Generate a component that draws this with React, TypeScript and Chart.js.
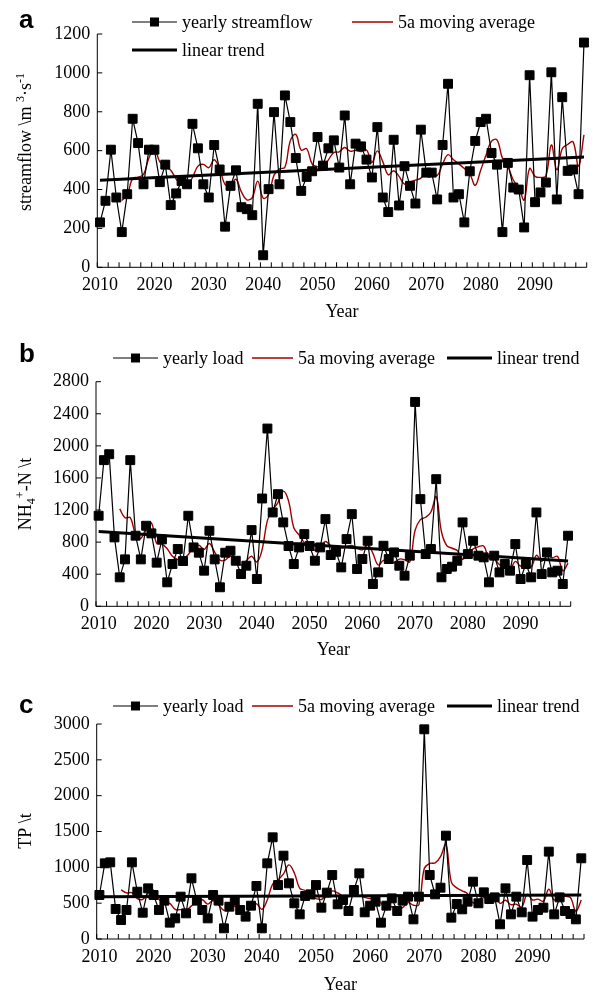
import React, { useEffect, useRef } from "react";
import { Chart, registerables } from "chart.js";

Chart.register(...registerables);

// ---------- data ----------
const START_YEAR = 2010;
const X_LABEL_YEARS = [2010, 2020, 2030, 2040, 2050, 2060, 2070, 2080, 2090];

// yearly streamflow, m3/s, 2010..2099
const streamflow = [
  231, 342, 605, 359, 181, 376, 764, 639, 427, 605,
  605, 438, 528, 320, 380, 444, 427, 738, 612, 427,
  359, 629, 503, 209, 419, 499, 309, 299, 268, 841,
  62, 402, 798, 427, 884, 747, 562, 393, 465, 494,
  670, 523, 612, 653, 513, 781, 427, 636, 622, 554,
  462, 721, 359, 284, 656, 318, 520, 419, 328, 708,
  487, 487, 349, 629, 944, 359, 376, 231, 494, 650,
  747, 764, 588, 528, 181, 537, 410, 400, 205, 988,
  335, 385, 436, 1003, 349, 875, 496, 503, 376, 1156,
];

// yearly NH4+-N load, t, 2010..2099
const nh4Load = [
  1129, 1822, 1896, 859, 361, 585, 1822, 880, 585, 1004,
  909, 544, 834, 299, 527, 714, 564, 1129, 734, 668,
  444, 942, 585, 237, 668, 693, 568, 402, 506, 950,
  340, 1344, 2216, 1170, 1398, 1046, 751, 527, 734, 900,
  751, 568, 734, 1087, 639, 680, 485, 838, 1149, 465,
  589, 817, 278, 423, 755, 589, 672, 506, 382, 631,
  2548, 1336, 651, 714, 1585, 361, 465, 494, 568, 1046,
  651, 817, 631, 610, 299, 631, 423, 527, 444, 776,
  340, 527, 361, 1170, 402, 672, 423, 444, 278, 880,
];

// yearly TP load, t, 2010..2099
const tpLoad = [
  614, 1056, 1070, 419, 265, 405, 1070, 660, 367, 707,
  614, 405, 535, 228, 288, 591, 358, 847, 535, 405,
  288, 614, 535, 149, 451, 535, 405, 312, 465, 740,
  149, 1056, 1419, 753, 1163, 777, 498, 344, 600, 623,
  753, 437, 647, 893, 484, 544, 391, 684, 916, 372,
  465, 521, 228, 465, 567, 391, 535, 591, 274, 591,
  2926, 893, 623, 716, 1442, 298, 488, 414, 521, 800,
  498, 651, 558, 581, 205, 707, 344, 591, 372, 1102,
  312, 405, 437, 1219, 344, 581, 391, 349, 274, 1126,
];

// linear trend end values (2010, 2099)
const streamflowTrend = [448, 567];
const nh4Trend = [934, 564];
const tpTrend = [590, 615];
const TREND_YEARS = [2010, 2099];

// y-axis ticks
const streamflowTicks = [0, 200, 400, 600, 800, 1000, 1200];
const nh4Ticks = [0, 400, 800, 1200, 1600, 2000, 2400, 2800];
const tpTicks = [0, 500, 1000, 1500, 2000, 2500, 3000];

const MA_WINDOW = 5; // "5a moving average" of the yearly values

// ---------- helpers ----------
const SERIF = "'Liberation Serif', 'Times New Roman', serif";
const RED = "#a00000";

function toPoints(values: number[]) {
  return values.map((v, i) => ({ x: START_YEAR + i, y: v }));
}
function movingAverage(values: number[]) {
  const out: { x: number; y: number }[] = [];
  for (let i = MA_WINDOW - 1; i < values.length; i++) {
    let s = 0;
    for (let k = i - MA_WINDOW + 1; k <= i; k++) s += values[k];
    out.push({ x: START_YEAR + i, y: s / MA_WINDOW });
  }
  return out;
}

type Seg = { t: string; sup?: boolean; sub?: boolean };

type Panel = {
  letter: string;
  top: number;
  height: number;
  plotLeft: number;
  plotRight: number;
  plotTop: number;
  plotBottom: number;
  values: number[];
  trend: number[];
  ticks: number[];
  yTitle: Seg[];
  yTitleY: number;
  yearY: number;
  letterY: number;
  legendRows: { kind: string; x1: number; x2: number; y: number; label: string }[];
};

const panels: Panel[] = [
  {
    letter: "a",
    top: 0,
    height: 330,
    plotLeft: 97.3,
    plotRight: 586.7,
    plotTop: 34,
    plotBottom: 267.3,
    values: streamflow,
    trend: streamflowTrend,
    ticks: streamflowTicks,
    yTitle: [{ t: "streamflow \\m " }, { t: "3", sup: true }, { t: "·s" }, { t: "-1", sup: true }],
    yTitleY: 142,
    yearY: 312,
    letterY: 28,
    legendRows: [
      { kind: "marker", x1: 132, x2: 177, y: 22, label: "yearly streamflow" },
      { kind: "ma", x1: 352, x2: 393, y: 22, label: "5a moving average" },
      { kind: "trend", x1: 132, x2: 177, y: 50, label: "linear trend" },
    ],
  },
  {
    letter: "b",
    top: 330,
    height: 335,
    plotLeft: 96,
    plotRight: 570.7,
    plotTop: 51.7,
    plotBottom: 276.3,
    values: nh4Load,
    trend: nh4Trend,
    ticks: nh4Ticks,
    yTitle: [{ t: "NH" }, { t: "4", sub: true }, { t: "+", sup: true }, { t: "-N \\t" }],
    yTitleY: 164,
    yearY: 320,
    letterY: 32,
    legendRows: [
      { kind: "marker", x1: 113, x2: 158, y: 28, label: "yearly load" },
      { kind: "ma", x1: 252, x2: 293, y: 28, label: "5a moving average" },
      { kind: "trend", x1: 447, x2: 492, y: 28, label: "linear trend" },
    ],
  },
  {
    letter: "c",
    top: 665,
    height: 329,
    plotLeft: 96.7,
    plotRight: 584,
    plotTop: 59,
    plotBottom: 274,
    values: tpLoad,
    trend: tpTrend,
    ticks: tpTicks,
    yTitle: [{ t: "TP \\t" }],
    yTitleY: 166,
    yearY: 320,
    letterY: 48,
    legendRows: [
      { kind: "marker", x1: 113, x2: 158, y: 41, label: "yearly load" },
      { kind: "ma", x1: 252, x2: 293, y: 41, label: "5a moving average" },
      { kind: "trend", x1: 447, x2: 492, y: 41, label: "linear trend" },
    ],
  },
];

function drawRich(ctx: CanvasRenderingContext2D, segs: Seg[], cx: number, cy: number) {
  ctx.save();
  ctx.translate(cx, cy);
  ctx.rotate(-Math.PI / 2);
  ctx.fillStyle = "#000";
  ctx.textAlign = "left";
  ctx.textBaseline = "alphabetic";
  const fontFor = (s: Seg) => (s.sup || s.sub ? `12px ${SERIF}` : `18px ${SERIF}`);
  let total = 0;
  const widths = segs.map((s) => {
    ctx.font = fontFor(s);
    const w = ctx.measureText(s.t).width;
    total += w;
    return w;
  });
  let x = -total / 2;
  const base = 6;
  segs.forEach((s, i) => {
    ctx.font = fontFor(s);
    const dy = s.sup ? -7 : s.sub ? 4 : 0;
    ctx.fillText(s.t, x, base + dy);
    x += widths[i];
  });
  ctx.restore();
}

function makePlugin(p: Panel) {
  return {
    id: "decor" + p.letter,
    afterDraw(chart: any) {
      const ctx: CanvasRenderingContext2D = chart.ctx;
      const xs = chart.scales.x;
      const ys = chart.scales.y;
      const area = chart.chartArea;
      ctx.save();
      ctx.strokeStyle = "#000";
      ctx.lineWidth = 1;
      // axis lines
      ctx.beginPath();
      ctx.moveTo(area.left, area.top);
      ctx.lineTo(area.left, area.bottom);
      ctx.lineTo(area.right, area.bottom);
      ctx.stroke();
      // inward x tick marks every 2 categories
      ctx.beginPath();
      for (let k = 0; k <= 45; k++) {
        const px = xs.getPixelForValue(2009.5 + 2 * k);
        ctx.moveTo(px, area.bottom);
        ctx.lineTo(px, area.bottom - 5);
      }
      // inward y tick marks
      p.ticks.forEach((v) => {
        const py = ys.getPixelForValue(v);
        ctx.moveTo(area.left, py);
        ctx.lineTo(area.left + 5, py);
      });
      ctx.stroke();

      // legend
      ctx.textBaseline = "middle";
      ctx.textAlign = "left";
      ctx.font = `18px ${SERIF}`;
      p.legendRows.forEach((r) => {
        ctx.beginPath();
        if (r.kind === "marker") {
          ctx.strokeStyle = "#000";
          ctx.lineWidth = 1.2;
        } else if (r.kind === "ma") {
          ctx.strokeStyle = RED;
          ctx.lineWidth = 1.3;
        } else {
          ctx.strokeStyle = "#000";
          ctx.lineWidth = 3;
        }
        ctx.moveTo(r.x1, r.y);
        ctx.lineTo(r.x2, r.y);
        ctx.stroke();
        if (r.kind === "marker") {
          ctx.fillStyle = "#000";
          const c = (r.x1 + r.x2) / 2;
          ctx.fillRect(c - 4.5, r.y - 4.5, 9, 9);
        }
        ctx.fillStyle = "#000";
        ctx.fillText(r.label, r.x2 + 5, r.y + 1);
      });

      // panel letter
      ctx.font = `bold 26px 'Liberation Sans', Arial, sans-serif`;
      ctx.textBaseline = "alphabetic";
      ctx.fillStyle = "#000";
      ctx.fillText(p.letter, 19, p.letterY);

      // x title
      ctx.font = `18px ${SERIF}`;
      ctx.textAlign = "center";
      ctx.textBaseline = "middle";
      ctx.fillText("Year", (area.left + area.right) / 2, p.yearY);
      ctx.restore();

      // y title
      drawRich(ctx, p.yTitle, 25, p.yTitleY);
    },
  };
}

function PanelChart({ p }: { p: Panel }) {
  const ref = useRef<HTMLCanvasElement | null>(null);
  useEffect(() => {
    if (!ref.current) return;
    const W = 596;
    const chart = new Chart(ref.current, {
      type: "line",
      data: {
        datasets: [
          {
            label: "yearly",
            data: toPoints(p.values),
            borderColor: "#000",
            borderWidth: 1.2,
            pointStyle: "rect",
            pointRadius: 6.3,
            pointBackgroundColor: "#000",
            pointBorderColor: "#000",
            pointBorderWidth: 1,
            tension: 0,
            clip: false,
            order: 0,
          },
          {
            label: "linear trend",
            data: TREND_YEARS.map((yr, i) => ({ x: yr, y: p.trend[i] })),
            borderColor: "#000",
            borderWidth: 3,
            pointRadius: 0,
            tension: 0,
            order: 1,
          },
          {
            label: "5a moving average",
            data: movingAverage(p.values),
            borderColor: RED,
            borderWidth: 1.4,
            pointRadius: 0,
            tension: 0.4,
            order: 2,
          },
        ],
      } as any,
      options: {
        responsive: false,
        animation: false,
        events: [],
        layout: {
          padding: { top: p.plotTop, right: W - p.plotRight, left: 0, bottom: 0 },
        },
        plugins: {
          legend: { display: false },
          tooltip: { enabled: false },
          title: { display: false },
        },
        scales: {
          x: {
            type: "linear",
            min: 2009.5,
            max: 2099.5,
            grid: { display: false, drawTicks: false },
            border: { display: false },
            ticks: {
              autoSkip: false,
              maxRotation: 0,
              padding: 7,
              color: "#000",
              font: { family: SERIF, size: 18 },
              callback: (v: any) => String(v),
            },
            afterBuildTicks: (s: any) => {
              s.ticks = X_LABEL_YEARS.map((v) => ({ value: v }));
            },
            afterFit: (s: any) => {
              s.height = p.height - p.plotBottom;
            },
          },
          y: {
            min: p.ticks[0],
            max: p.ticks[p.ticks.length - 1],
            grid: { display: false, drawTicks: false },
            border: { display: false },
            ticks: {
              padding: 7,
              color: "#000",
              font: { family: SERIF, size: 18 },
              callback: (v: any) => String(v),
            },
            afterBuildTicks: (s: any) => {
              s.ticks = p.ticks.map((v) => ({ value: v }));
            },
            afterFit: (s: any) => {
              s.width = p.plotLeft;
            },
          },
        },
      } as any,
      plugins: [makePlugin(p)],
    });
    return () => chart.destroy();
  }, [p]);
  return (
    <canvas
      ref={ref}
      width={596}
      height={p.height}
      style={{ position: "absolute", left: 0, top: p.top, width: 596, height: p.height }}
    />
  );
}

export default function App() {
  return (
    <div
      style={{
        position: "absolute",
        left: 0,
        top: 0,
        width: 596,
        height: 994,
        background: "#fff",
        overflow: "hidden",
      }}
    >
      {panels.map((p) => (
        <PanelChart key={p.letter} p={p} />
      ))}
    </div>
  );
}
